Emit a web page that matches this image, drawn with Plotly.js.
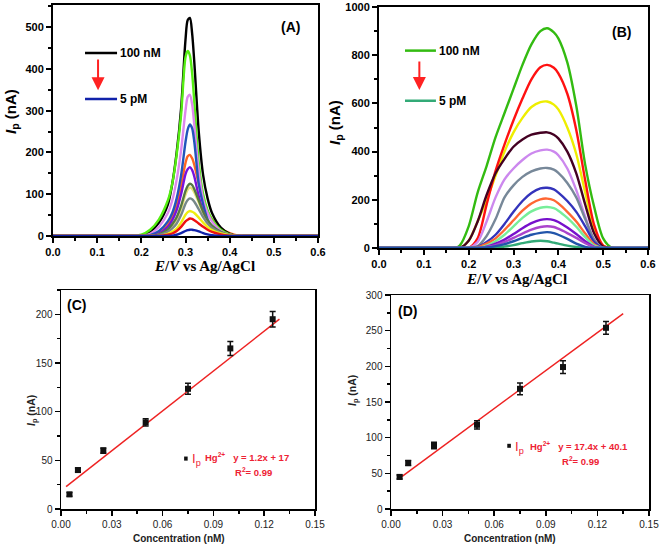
<!DOCTYPE html>
<html>
<head>
<meta charset="utf-8">
<script src="https://cdn.plot.ly/plotly-3.0.1.min.js"></script>
<style>html,body{margin:0;padding:0;background:#fff;}#chart{width:661px;height:547px;}</style>
</head>
<body>
<div id="chart"></div>
<script>
// ---------- Panel A: DPV curves ----------
const potentialA = [0, 0.18, 0.20, 0.22, 0.24, 0.26, 0.27, 0.28, 0.29, 0.30, 0.305, 0.31, 0.315, 0.32, 0.33, 0.34, 0.35, 0.36, 0.38, 0.40, 0.42, 0.44, 0.6];
const curvesA_black  = [0,0,0,10,32,75,125,200,305,470,517,522,485,415,250,145,90,55,20,5,0,0,0];
const curvesA_green  = [0,0,3,15,40,85,125,195,290,428,443,432,390,320,175,100,62,40,15,4,0,0,0];
const curvesA_violet = [0,0,0,5,22,55,85,135,205,300,333,338,315,265,155,88,55,35,12,3,0,0,0];
const curvesA_blue   = [0,0,0,2,12,35,55,90,145,225,255,267,258,225,125,75,40,20,4,0,0,0,0];
const curvesA_orange = [0,0,0,0,8,28,45,75,120,175,191,194,186,170,125,85,58,40,18,7,1,0,0];
const curvesA_purple = [0,0,0,0,6,22,38,62,100,148,160,165,158,142,95,58,35,20,7,2,0,0,0];
const curvesA_olive  = [0,0,0,0,4,16,28,45,72,108,120,125,122,112,85,58,38,25,10,3,0,0,0];
const curvesA_pale   = [0,0,0,0,3,14,25,40,65,99,111,116,113,104,80,55,36,23,9,3,0,0,0];
const curvesA_gray   = [0,0,0,0,2,10,18,30,50,77,86,90,88,82,64,45,30,20,8,2,0,0,0];
const curvesA_yellow = [0,0,0,0,0,5,10,18,32,51,57,60,58,55,44,32,22,14,6,2,0,0,0];
const curvesA_red    = [0,0,0,0,0,3,6,12,22,35,39,42,41,38,30,22,15,10,4,1,0,0,0];
const curvesA_navy   = [0,0,0,0,0,0,1,3,7,12,14,15,15,14,11,7,4,2,0,0,0,0,0];

// ---------- Panel B: DPV curves ----------
const potentialB = [0, 0.17, 0.18, 0.20, 0.22, 0.24, 0.26, 0.28, 0.30, 0.32, 0.34, 0.36, 0.375, 0.39, 0.40, 0.42, 0.44, 0.46, 0.48, 0.50, 0.52, 0.6];
const curvesB_green   = [0,0,10,90,230,340,460,560,660,760,845,900,912,895,870,770,590,345,170,40,0,0];
const curvesB_red     = [0,0,0,0,40,180,320,430,530,620,700,750,760,748,725,640,490,280,95,10,0,0];
const curvesB_yellow  = [0,0,0,30,110,200,300,400,480,540,585,605,608,595,575,500,390,230,80,10,0,0];
const curvesB_maroon  = [0,0,0,30,110,220,310,370,420,450,470,478,480,470,455,400,310,180,60,5,0,0];
const curvesB_violet  = [0,0,0,0,25,110,210,285,330,365,392,405,408,400,385,330,240,130,35,0,0,0];
const curvesB_gray    = [0,0,0,0,8,50,120,210,260,295,318,330,332,325,312,270,210,120,35,0,0,0];
const curvesB_blue    = [0,0,0,0,5,25,55,100,150,195,228,247,250,243,230,195,150,90,25,0,0,0];
const curvesB_orange  = [0,0,0,0,3,18,40,75,115,155,185,202,205,198,185,150,110,60,15,0,0,0];
const curvesB_lgreen  = [0,0,0,0,0,10,28,55,90,125,152,167,170,165,155,125,88,45,10,0,0,0];
const curvesB_purple  = [0,0,0,0,0,6,18,35,58,82,103,117,120,116,108,85,58,28,5,0,0,0];
const curvesB_magenta = [0,0,0,0,0,4,12,25,42,60,76,87,90,87,80,62,42,20,4,0,0,0];
const curvesB_dblue   = [0,0,0,0,0,2,8,16,28,42,55,63,66,62,55,38,18,5,0,0,0,0];
const curvesB_teal    = [0,0,0,0,0,0,2,6,12,20,27,30,28,22,18,10,4,0,0,0,0,0];

// ---------- Panel C: calibration ----------
const concC = [0.005, 0.01, 0.025, 0.05, 0.075, 0.1, 0.125];
const ipC   = [15, 40, 60, 89, 123.5, 165, 195];
const errC  = [2, 2, 2.6, 3.8, 5.7, 7.2, 7.9];
const fitXC = [0.003, 0.129];
const fitYC = [23, 195];

// ---------- Panel D: calibration ----------
const concD = [0.005, 0.01, 0.025, 0.05, 0.075, 0.1, 0.125];
const ipD   = [45, 64.5, 89, 118, 168.5, 199, 254];
const errD  = [2.8, 3.5, 4.7, 5.8, 8.2, 9, 8.9];
const fitXD = [0.0043, 0.135];
const fitYD = [42, 274];

const seriesA = [
  [curvesA_orange, '#ff6622'],
  [curvesA_black, '#000000'],
  [curvesA_green, '#55ee11'],
  [curvesA_violet, '#dd88ee'],
  [curvesA_blue, '#2255bb'],
  [curvesA_purple, '#7711dd'],
  [curvesA_pale, '#e8e27a'],
  [curvesA_olive, '#557744'],
  [curvesA_gray, '#778888'],
  [curvesA_yellow, '#eeee11'],
  [curvesA_red, '#ee1111'],
  [curvesA_navy, '#1122aa']
];
const seriesB = [
  [curvesB_green, '#33bb11'],
  [curvesB_yellow, '#eeee00'],
  [curvesB_red, '#ff1111'],
  [curvesB_maroon, '#440022'],
  [curvesB_violet, '#cc88ee'],
  [curvesB_gray, '#778899'],
  [curvesB_blue, '#3333bb'],
  [curvesB_orange, '#ff6633'],
  [curvesB_lgreen, '#77ee99'],
  [curvesB_purple, '#7711cc'],
  [curvesB_magenta, '#aa44cc'],
  [curvesB_teal, '#33aa77'],
  [curvesB_dblue, '#2255aa']
];

const traces = [];
seriesA.forEach(([ys, c]) => traces.push({
  x: potentialA, y: ys, xaxis: 'x', yaxis: 'y', mode: 'lines',
  line: {color: c, width: 2.4, shape: 'spline', smoothing: 0.8},
  showlegend: false, hoverinfo: 'skip'
}));
seriesB.forEach(([ys, c]) => traces.push({
  x: potentialB, y: ys, xaxis: 'x2', yaxis: 'y2', mode: 'lines',
  line: {color: c, width: 2.4, shape: 'spline', smoothing: 0.8},
  showlegend: false, hoverinfo: 'skip'
}));
traces.push({x: fitXC, y: fitYC, xaxis: 'x3', yaxis: 'y3', mode: 'lines',
  line: {color: '#ee2222', width: 1.5}, showlegend: false});
traces.push({x: concC, y: ipC, xaxis: 'x3', yaxis: 'y3', mode: 'markers',
  marker: {symbol: 'square', size: 6, color: '#111'},
  error_y: {type: 'data', array: errC, visible: true, color: '#111', thickness: 1.5, width: 3},
  showlegend: false});
traces.push({x: fitXD, y: fitYD, xaxis: 'x4', yaxis: 'y4', mode: 'lines',
  line: {color: '#ee2222', width: 1.5}, showlegend: false});
traces.push({x: concD, y: ipD, xaxis: 'x4', yaxis: 'y4', mode: 'markers',
  marker: {symbol: 'square', size: 6, color: '#111'},
  error_y: {type: 'data', array: errD, visible: true, color: '#111', thickness: 1.5, width: 3},
  showlegend: false});

const fontSans = 'Liberation Sans, Arial, sans-serif';
const fontSerif = 'Liberation Serif, Times New Roman, serif';
const boldTick = {family: fontSans, size: 11, color: '#000', weight: 'bold'};
const thinTick = {family: fontSans, size: 10, color: '#222'};

function ax(domain, range, dtick, minorDtick, fmt, anchor, font, lw) {
  return {
    domain: domain, range: range, anchor: anchor, dtick: dtick, tick0: 0,
    tickformat: fmt, showline: true, mirror: true, linecolor: '#000', linewidth: lw,
    ticks: 'outside', ticklen: 5, tickwidth: lw, tickcolor: '#000',
    minor: {ticks: 'outside', ticklen: 3, tickwidth: lw, dtick: minorDtick, tickcolor: '#000'},
    showgrid: false, zeroline: false, tickfont: font, fixedrange: true
  };
}

const P = (px) => px / 661;
const Q = (py) => 1 - py / 547;
const paperText = (px, py, text, font, angle) => ({
  xref: 'paper', yref: 'paper', x: P(px), y: Q(py), text: text, showarrow: false,
  xanchor: 'center', yanchor: 'middle', textangle: angle || 0, font: font
});

const layout = {
  width: 661, height: 547,
  margin: {l: 0, r: 0, t: 0, b: 0},
  paper_bgcolor: '#fff', plot_bgcolor: '#fff',
  showlegend: false,
  xaxis:  ax([P(53), P(318)], [0, 0.6], 0.1, 0.05, '.1f', 'y', boldTick, 2),
  yaxis:  ax([Q(236), Q(5)], [0, 553], 100, 50, 'd', 'x', boldTick, 2),
  xaxis2: ax([P(379), P(648)], [0, 0.6], 0.1, 0.05, '.1f', 'y2', boldTick, 2),
  yaxis2: ax([Q(248), Q(7)], [0, 1000], 200, 100, 'd', 'x2', boldTick, 2),
  xaxis3: ax([P(61), P(315)], [0, 0.15], 0.03, 0.015, '.2f', 'y3', thinTick, 1.5),
  yaxis3: ax([Q(509), Q(290)], [0, 225], 50, 25, 'd', 'x3', thinTick, 1.5),
  xaxis4: ax([P(391), P(649)], [0, 0.15], 0.03, 0.015, '.2f', 'y4', thinTick, 1.5),
  yaxis4: ax([Q(509), Q(295)], [0, 300], 50, 25, 'd', 'x4', thinTick, 1.5),
  shapes: [
    {type: 'line', xref: 'x', yref: 'y', x0: 0.0725, x1: 0.145, y0: 438, y1: 438, line: {color: '#000', width: 2.5}},
    {type: 'line', xref: 'x', yref: 'y', x0: 0.0725, x1: 0.145, y0: 328, y1: 328, line: {color: '#1122aa', width: 2.5}},
    {type: 'line', xref: 'x2', yref: 'y2', x0: 0.058, x1: 0.127, y0: 819, y1: 819, line: {color: '#33bb11', width: 2.5}},
    {type: 'line', xref: 'x2', yref: 'y2', x0: 0.058, x1: 0.127, y0: 611, y1: 611, line: {color: '#33aa77', width: 2.5}},
    {type: 'rect', xref: 'x3', yref: 'y3', x0: 0.0727, x1: 0.0748, y0: 49.7, y1: 53.9, fillcolor: '#111', line: {width: 0}},
    {type: 'rect', xref: 'x4', yref: 'y4', x0: 0.0676, x1: 0.0697, y0: 85.8, y1: 91.4, fillcolor: '#111', line: {width: 0}}
  ],
  annotations: [
    // Panel A
    {xref: 'x', yref: 'y', x: 0.148, y: 438, text: '<b>100 nM</b>', showarrow: false, xanchor: 'left', yanchor: 'middle', font: {family: fontSans, size: 12, color: '#000'}},
    {xref: 'x', yref: 'y', x: 0.148, y: 328, text: '<b>5 pM</b>', showarrow: false, xanchor: 'left', yanchor: 'middle', font: {family: fontSans, size: 12, color: '#000'}},
    {xref: 'x', yref: 'y', x: 0.102, y: 349, axref: 'x', ayref: 'y', ax: 0.102, ay: 426, text: '', showarrow: true, arrowhead: 2, arrowsize: 1.3, arrowwidth: 2, arrowcolor: '#ff2222'},
    {xref: 'x', yref: 'y', x: 0.537, y: 500, text: '<b>(A)</b>', showarrow: false, xanchor: 'center', yanchor: 'middle', font: {family: fontSans, size: 14, color: '#000'}},
    paperText(205, 266, '<b><i>E</i>/<i>V</i> vs Ag/AgCl</b>', {family: fontSerif, size: 15, color: '#000'}),
    paperText(11, 112, '<b><i>I</i><sub>p</sub> (nA)</b>', {family: fontSans, size: 15, color: '#000'}, -90),
    // Panel B
    {xref: 'x2', yref: 'y2', x: 0.130, y: 819, text: '<b>100 nM</b>', showarrow: false, xanchor: 'left', yanchor: 'middle', font: {family: fontSans, size: 12, color: '#000'}},
    {xref: 'x2', yref: 'y2', x: 0.130, y: 611, text: '<b>5 pM</b>', showarrow: false, xanchor: 'left', yanchor: 'middle', font: {family: fontSans, size: 12, color: '#000'}},
    {xref: 'x2', yref: 'y2', x: 0.090, y: 656, axref: 'x2', ayref: 'y2', ax: 0.090, ay: 780, text: '', showarrow: true, arrowhead: 2, arrowsize: 1.3, arrowwidth: 2, arrowcolor: '#ff2222'},
    {xref: 'x2', yref: 'y2', x: 0.541, y: 897, text: '<b>(B)</b>', showarrow: false, xanchor: 'center', yanchor: 'middle', font: {family: fontSans, size: 14, color: '#000'}},
    paperText(516, 279, '<b><i>E</i>/<i>V</i> vs Ag/AgCl</b>', {family: fontSerif, size: 15, color: '#000'}),
    paperText(336, 123, '<b><i>I</i><sub>p</sub> (nA)</b>', {family: fontSans, size: 15, color: '#000'}, -90),
    // Panel C
    {xref: 'x3', yref: 'y3', x: 0.0093, y: 210, text: '<b>(C)</b>', showarrow: false, xanchor: 'center', yanchor: 'middle', font: {family: fontSans, size: 14, color: '#000'}},
    {xref: 'x3', yref: 'y3', x: 0.0762, y: 51, text: 'I<sub>p</sub>', showarrow: false, xanchor: 'left', yanchor: 'middle', font: {family: fontSans, size: 13, color: '#ee2233'}},
    {xref: 'x3', yref: 'y3', x: 0.0841, y: 53, text: '<b>Hg<sup>2+</sup>   y = 1.2x + 17</b>', showarrow: false, xanchor: 'left', yanchor: 'middle', font: {family: fontSans, size: 9.5, color: '#ee2233'}},
    {xref: 'x3', yref: 'y3', x: 0.1018, y: 38, text: '<b>R<sup>2</sup>= 0.99</b>', showarrow: false, xanchor: 'left', yanchor: 'middle', font: {family: fontSans, size: 9.5, color: '#ee2233'}},
    paperText(179, 538, '<b>Concentration (nM)</b>', {family: fontSans, size: 10, color: '#222'}),
    paperText(32, 411, '<b><i>I</i><sub>p</sub> (nA)</b>', {family: fontSans, size: 10.5, color: '#222'}, -90),
    // Panel D
    {xref: 'x4', yref: 'y4', x: 0.0095, y: 278, text: '<b>(D)</b>', showarrow: false, xanchor: 'center', yanchor: 'middle', font: {family: fontSans, size: 14, color: '#000'}},
    {xref: 'x4', yref: 'y4', x: 0.0711, y: 86, text: 'I<sub>p</sub>', showarrow: false, xanchor: 'left', yanchor: 'middle', font: {family: fontSans, size: 13, color: '#ee2233'}},
    {xref: 'x4', yref: 'y4', x: 0.0795, y: 89, text: '<b>Hg<sup>2+</sup>   y = 17.4x + 40.1</b>', showarrow: false, xanchor: 'left', yanchor: 'middle', font: {family: fontSans, size: 9.5, color: '#ee2233'}},
    {xref: 'x4', yref: 'y4', x: 0.0983, y: 67, text: '<b>R<sup>2</sup>= 0.99</b>', showarrow: false, xanchor: 'left', yanchor: 'middle', font: {family: fontSans, size: 9.5, color: '#ee2233'}},
    paperText(510, 538, '<b>Concentration (nM)</b>', {family: fontSans, size: 10, color: '#222'}),
    paperText(353, 391, '<b><i>I</i><sub>p</sub> (nA)</b>', {family: fontSans, size: 10.5, color: '#222'}, -90)
  ]
};

Plotly.newPlot('chart', traces, layout, {displayModeBar: false, staticPlot: true});
</script>
</body>
</html>
